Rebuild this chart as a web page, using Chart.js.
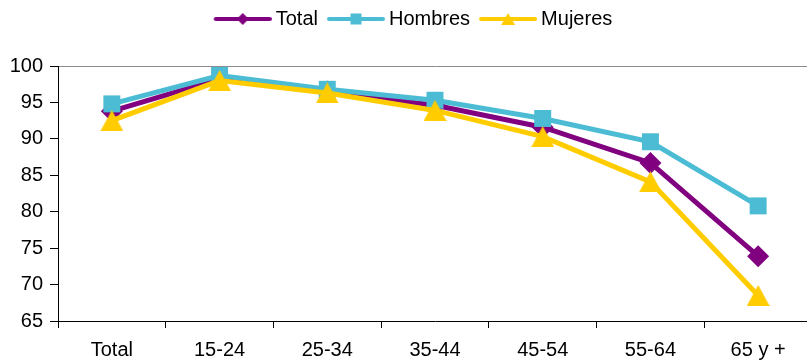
<!DOCTYPE html>
<html>
<head>
<meta charset="utf-8">
<script src="https://cdn.jsdelivr.net/npm/chart.js@4/dist/chart.umd.min.js"></script>
<style>
  html, body { margin: 0; padding: 0; overflow: hidden; background: #fff; }
  canvas { display: block; }
</style>
</head>
<body>
<canvas id="chart" width="812" height="361"></canvas>
<script>
// Age groups and rates (%) per series
const categories = ['Total', '15-24', '25-34', '35-44', '45-54', '55-64', '65 y +'];
const total   = [93.8, 98.2, 96.5, 94.6, 91.6, 86.7, 73.9];
const hombres = [94.8, 98.7, 96.8, 95.3, 92.8, 89.6, 80.8];
const mujeres = [92.5, 98.0, 96.3, 93.9, 90.3, 84.1, 68.5];
const seriesNames = ['Total', 'Hombres', 'Mujeres'];
const yMin = 65, yMax = 100, yStep = 5;

const PURPLE = '#800080';
const CYAN = '#4BBCD4';
const YELLOW = '#FFCC00';
const FONT = "'Liberation Sans', Arial, sans-serif";

// Upward triangle marker, centred on its bounding box
function triangleMarker(w, h, color) {
  const c = document.createElement('canvas');
  c.width = w; c.height = h;
  const g = c.getContext('2d');
  g.fillStyle = color;
  g.beginPath();
  g.moveTo(w / 2, 0);
  g.lineTo(w, h);
  g.lineTo(0, h);
  g.closePath();
  g.fill();
  return c;
}

// Legend swatch: a line with the series marker in its middle
function legendSwatch(color, marker) {
  const c = document.createElement('canvas');
  c.width = 64; c.height = 16;
  const g = c.getContext('2d');
  g.strokeStyle = color;
  g.fillStyle = color;
  g.lineWidth = 4;
  g.lineCap = 'round';
  g.beginPath();
  g.moveTo(8, 8);
  g.lineTo(62, 8);
  g.stroke();
  const cx = 35, cy = 8;
  g.beginPath();
  if (marker === 'diamond') {
    g.moveTo(cx, cy - 6); g.lineTo(cx + 6, cy); g.lineTo(cx, cy + 6); g.lineTo(cx - 6, cy);
  } else if (marker === 'square') {
    g.rect(cx - 5.5, cy - 5.5, 11, 11);
  } else {
    g.moveTo(cx, cy - 6); g.lineTo(cx + 7, cy + 6); g.lineTo(cx - 7, cy + 6);
  }
  g.closePath();
  g.fill();
  return c;
}

const swatches = [
  legendSwatch(PURPLE, 'diamond'),
  legendSwatch(CYAN, 'square'),
  legendSwatch(YELLOW, 'triangle')
];

// Fixed legend band height above the plot, legend centred slightly right
const legendBand = {
  id: 'legendBand',
  beforeLayout(chart) {
    const lg = chart.legend;
    if (lg && !lg._bandPatched) {
      const fit = lg.fit.bind(lg);
      lg.fit = function () { fit(); this.height = 66; };
      lg._bandPatched = true;
    }
  },
  afterLayout(chart) {
    const lg = chart.legend;
    if (lg) { lg.left = 14; }
  }
};

new Chart(document.getElementById('chart'), {
  type: 'line',
  data: {
    labels: categories,
    datasets: [
      {
        label: seriesNames[0], data: total, order: 3,
        borderColor: PURPLE, backgroundColor: PURPLE, borderWidth: 5,
        pointStyle: 'rectRot', pointRadius: 11, pointBorderWidth: 0,
        pointBackgroundColor: PURPLE, tension: 0
      },
      {
        label: seriesNames[1], data: hombres, order: 2,
        borderColor: CYAN, backgroundColor: CYAN, borderWidth: 5,
        pointStyle: 'rect', pointRadius: 12, pointBorderWidth: 0,
        pointBackgroundColor: CYAN, tension: 0
      },
      {
        label: seriesNames[2], data: mujeres, order: 1,
        borderColor: YELLOW, backgroundColor: YELLOW, borderWidth: 5,
        pointStyle: triangleMarker(23, 21, YELLOW), pointRadius: 12, pointBorderWidth: 0,
        pointBackgroundColor: YELLOW, tension: 0
      }
    ]
  },
  options: {
    responsive: false,
    animation: false,
    devicePixelRatio: 1,
    layout: { padding: 0, autoPadding: false },
    plugins: {
      tooltip: { enabled: false },
      legend: {
        position: 'top',
        labels: {
          color: '#000',
          font: { family: FONT, size: 20 },
          padding: 9,
          usePointStyle: true,
          pointStyleWidth: 52,
          sort: (a, b) => a.datasetIndex - b.datasetIndex,
          generateLabels(chart) {
            const items = Chart.defaults.plugins.legend.labels.generateLabels(chart);
            items.forEach((it) => { it.pointStyle = swatches[it.datasetIndex]; });
            return items;
          }
        }
      }
    },
    scales: {
      x: {
        offset: true,
        grid: { offset: true, color: 'transparent', tickColor: '#000', tickLength: 7, drawOnChartArea: false },
        border: { color: '#000', width: 1 },
        ticks: { color: '#000', font: { family: FONT, size: 20 }, padding: 10, maxRotation: 0, autoSkip: false },
        afterFit(scale) { scale.height = 40; scale.paddingLeft = 0; scale.paddingRight = 0; }
      },
      y: {
        min: yMin, max: yMax,
        grid: {
          color: (ctx) => (ctx.tick && ctx.tick.value === yMax ? '#8c8c8c' : 'transparent'),
          tickColor: '#000', tickLength: 8
        },
        border: { color: '#000', width: 1 },
        ticks: { stepSize: yStep, color: '#000', font: { family: FONT, size: 20 }, padding: 7 },
        afterFit(scale) { scale.width = 58; }
      }
    }
  },
  plugins: [legendBand]
});
</script>
</body>
</html>
